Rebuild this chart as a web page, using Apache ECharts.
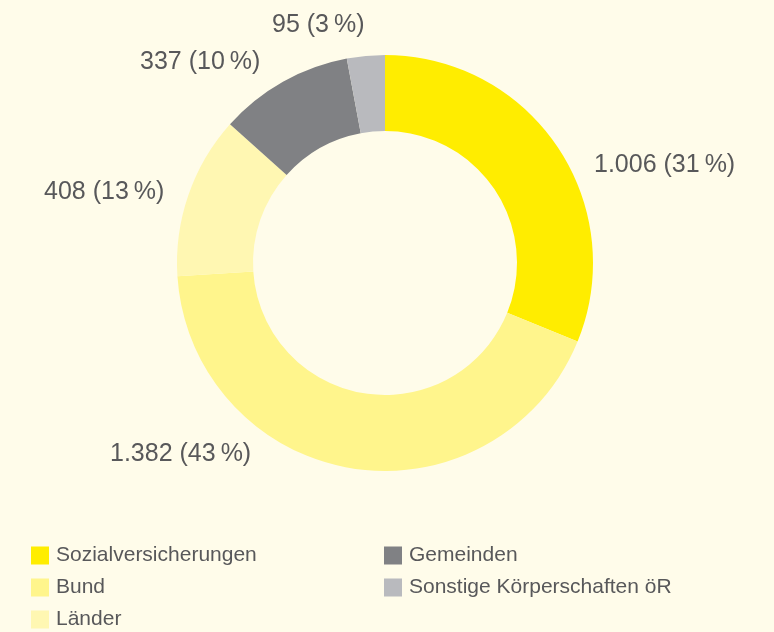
<!DOCTYPE html>
<html>
<head>
<meta charset="utf-8">
<script src="https://cdn.jsdelivr.net/npm/echarts@6/dist/echarts.min.js"></script>
<style>
  html, body { margin: 0; padding: 0; background: #fffcea; }
  #chart { width: 774px; height: 632px; }
</style>
</head>
<body>
<div id="chart"></div>
<script>
const categories = ["Sozialversicherungen", "Bund", "Länder", "Gemeinden", "Sonstige Körperschaften öR"];
const values = [1006, 1382, 408, 337, 95];
const colors = ["#ffed00", "#fff58c", "#fff7b2", "#808184", "#b9babe"];

// where each value label sits (left edge, vertical middle)
const labelPos = [
  [594, 165],
  [110, 454],
  [44, 192],
  [140, 62],
  [272, 25]
];

const chart = echarts.init(document.getElementById("chart"));

const legendBase = {
  orient: "vertical",
  top: 545,
  height: 120,
  padding: 0,
  icon: "rect",
  itemWidth: 18,
  itemHeight: 18,
  itemGap: 11,
  selectedMode: false,
  textStyle: { fontFamily: "Liberation Sans", fontSize: 21, color: "#58585a", padding: [0, 0, 0, 2] }
};

chart.setOption({
  backgroundColor: "#fffcea",
  animation: false,
  color: colors,
  legend: [
    Object.assign({}, legendBase, { data: categories.slice(0, 3), left: 31 }),
    Object.assign({}, legendBase, { data: categories.slice(3), left: 384 })
  ],
  series: [
    {
      type: "pie",
      center: [385, 263],
      radius: [132, 208],
      startAngle: 90,
      clockwise: true,
      silent: true,
      data: categories.map((c, i) => ({ name: c, value: values[i] })),
      label: {
        show: true,
        fontFamily: "Liberation Sans",
        fontSize: 25,
        color: "#58585a",
        formatter: (p) => p.value.toLocaleString("de-DE") + " (" + Math.round(p.percent) + "\u2009%)"
      },
      labelLine: { show: false },
      labelLayout: (p) => ({
        x: labelPos[p.dataIndex][0],
        y: labelPos[p.dataIndex][1],
        align: "left",
        verticalAlign: "middle"
      })
    }
  ]
});
</script>
</body>
</html>
